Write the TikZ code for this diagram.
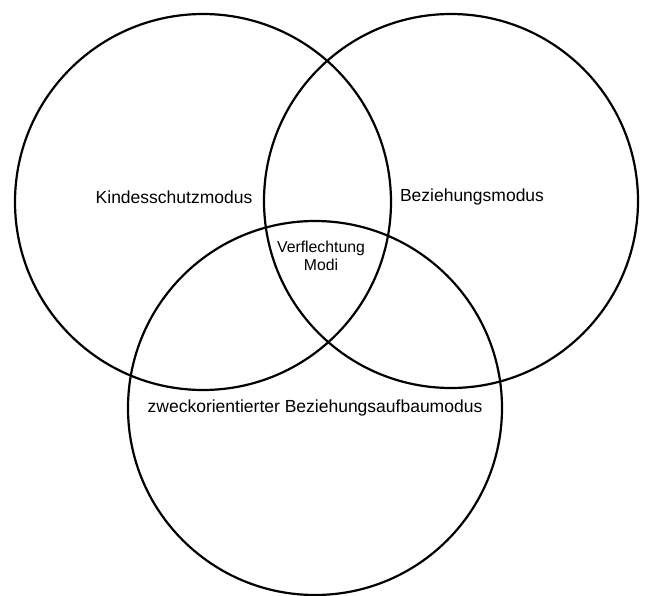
\documentclass[tikz,border=0pt]{standalone}
\usepackage{fontspec}
\setmainfont{Liberation Sans}
\begin{document}
\begin{tikzpicture}[x=1pt,y=-1pt,
  venn/.style={draw=black,line width=2.2pt},
  biglabel/.style={font=\fontsize{17.5}{20}\selectfont,inner sep=0pt},
  smalllabel/.style={font=\fontsize{15.8}{18}\selectfont,inner sep=0pt,align=center}]
\useasboundingbox (0,0) rectangle (647,596);
\draw[venn] (203,202) circle[radius=188];
\draw[venn] (451,201) circle[radius=187];
\draw[venn] (315,408) circle[radius=187];
\node[biglabel] (kind) at (174,197) {Kindesschutzmodus};
\node[biglabel] (bez) at (472,197) {Beziehungsmodus};
\node[biglabel] (zweck) at (315,408) {zweckorientierter Beziehungsaufbaumodus};
\node[smalllabel] (verf) at (321,256) {Verflechtung\\Modi};
\end{tikzpicture}
\end{document}
